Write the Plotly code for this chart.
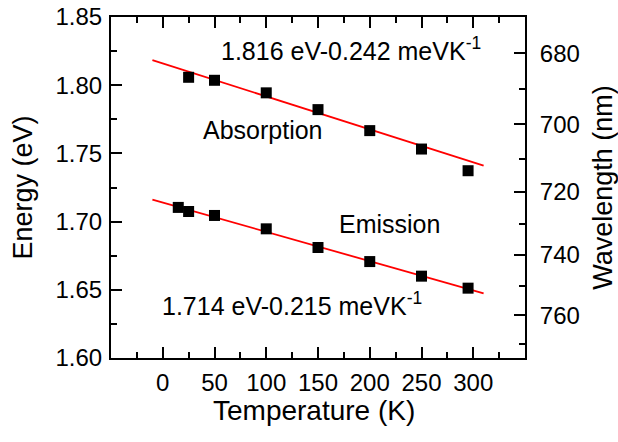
import plotly.graph_objects as go

# Peak energies vs temperature
abs_T = [25, 50, 100, 150, 200, 250, 295]
abs_E = [1.8058, 1.8036, 1.7944, 1.7821, 1.7667, 1.7532, 1.7373]
emi_T = [15, 25, 50, 100, 150, 200, 250, 295]
emi_E = [1.7104, 1.7074, 1.7045, 1.6947, 1.6810, 1.6707, 1.6600, 1.6512]

# Linear fits E(T) = E0 - k*T  (k in meV/K)
abs_fit = (1.816, 0.242)
emi_fit = (1.714, 0.215)
fit_T = [-10, 310]

# Secondary axis: wavelength ticks (nm)
HC = 1239.84  # eV*nm
wl_major = [680, 700, 720, 740, 760]
wl_minor = [690, 710, 730, 750, 770]

x_ticks = [0, 50, 100, 150, 200, 250, 300]
y_ticks = [1.60, 1.65, 1.70, 1.75, 1.80, 1.85]

FONT = "Liberation Sans, Arial, sans-serif"

fig = go.Figure()

for (e0, k) in (abs_fit, emi_fit):
    fig.add_trace(go.Scatter(
        x=fit_T, y=[e0 - k * 1e-3 * t for t in fit_T],
        mode="lines", line=dict(color="#ff0000", width=1.8),
        showlegend=False, hoverinfo="skip"))

for T, E in ((abs_T, abs_E), (emi_T, emi_E)):
    fig.add_trace(go.Scatter(
        x=T, y=E, mode="markers",
        marker=dict(symbol="square", size=11, color="black", line=dict(width=0)),
        showlegend=False))

# carrier trace so the wavelength axis is drawn
fig.add_trace(go.Scatter(x=[emi_T[0]], y=[emi_E[0]], yaxis="y2",
                         mode="markers", marker=dict(opacity=0),
                         showlegend=False, hoverinfo="skip"))

ann_font = dict(size=25, color="black")
fig.add_annotation(x=54, y=1.8262, xanchor="left", yanchor="middle", font=ann_font,
                   text="1.816 eV-0.242 meVK<sup>-1</sup>", showarrow=False)
fig.add_annotation(x=37, y=1.7668, xanchor="left", yanchor="middle", font=ann_font,
                   text="Absorption", showarrow=False)
fig.add_annotation(x=168, y=1.6985, xanchor="left", yanchor="middle", font=ann_font,
                   text="Emission", showarrow=False)
fig.add_annotation(x=-3, y=1.6395, xanchor="left", yanchor="middle", font=ann_font,
                   text="1.714 eV-0.215 meVK<sup>-1</sup>", showarrow=False)

# x-axis title
fig.add_annotation(x=0.49, y=-0.153, xref="paper", yref="paper",
                   xanchor="center", yanchor="middle",
                   text="Temperature (K)", font=dict(size=28, color="black"),
                   showarrow=False)

axis_common = dict(showgrid=False, zeroline=False, showline=True, automargin=False,
                   linecolor="black", linewidth=2, ticks="inside",
                   tickcolor="black", tickwidth=1.5, ticklen=11,
                   tickfont=dict(size=24, color="black"))

fig.update_layout(
    width=618, height=442,
    margin=dict(l=111, r=93, t=17, b=84),
    paper_bgcolor="white", plot_bgcolor="white",
    font=dict(family=FONT, size=24, color="black"),
    xaxis=dict(**axis_common, range=[-50, 350], mirror="ticks",
               tickmode="array", tickvals=x_ticks,
               minor=dict(tick0=0, dtick=25, ticks="inside", ticklen=6,
                          tickwidth=1.5, tickcolor="black"),
               ticklabelstandoff=2),
    yaxis=dict(**axis_common, range=[1.60, 1.85], tickmode="array",
               tickvals=y_ticks, tickformat=".2f",
               minor=dict(tick0=1.6, dtick=0.025, ticks="inside", ticklen=6,
                          tickwidth=1.5, tickcolor="black"),
               ticklabelstandoff=2,
               title=dict(text="Energy (eV)", font=dict(size=27), standoff=15)),
    yaxis2=dict(**axis_common, range=[1.60, 1.85], overlaying="y", side="right",
                tickmode="array", tickvals=[HC / w for w in wl_major],
                ticktext=[str(w) for w in wl_major],
                minor=dict(tickmode="array", tickvals=[HC / w for w in wl_minor],
                           ticks="inside", ticklen=6, tickwidth=1.5, tickcolor="black"),
                ticklabelstandoff=8,
                title=dict(text="Wavelength (nm)", font=dict(size=27), standoff=19)),
)

fig.write_html("out.html")
